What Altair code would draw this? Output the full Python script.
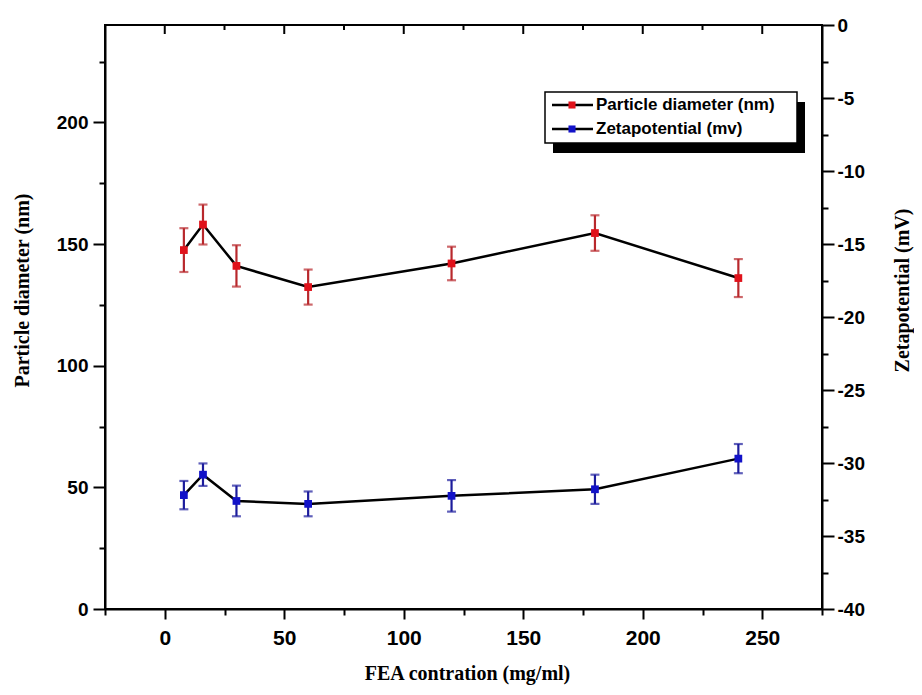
import altair as alt
import pandas as pd

# ---- data ----
conc = [8, 16, 30, 60, 120, 180, 240]
diameter = [147.5, 158.0, 141.0, 132.3, 142.0, 154.5, 136.0]
diameter_err = [9.0, 8.2, 8.5, 7.2, 6.9, 7.3, 7.8]
zeta = [-32.2, -30.8, -32.6, -32.8, -32.25, -31.8, -29.7]
zeta_err = [0.97, 0.77, 1.05, 0.85, 1.08, 1.0, 1.0]

legend_labels = ["Particle diameter (nm)", "Zetapotential (mv)"]
x_title = "FEA contration (mg/ml)"
y_left_title = "Particle diameter (nm)"
y_right_title = "Zetapotential (mV)"

RED = "#e0121b"
RED_ERR = "#b8282c"
BLUE = "#1212c8"
BLUE_ERR = "#1c1c9c"

W, H = 717, 584

df_d = pd.DataFrame({"conc": conc, "val": diameter,
                     "lo": [v - e for v, e in zip(diameter, diameter_err)],
                     "hi": [v + e for v, e in zip(diameter, diameter_err)]})
df_z = pd.DataFrame({"conc": conc, "val": zeta,
                     "lo": [v - e for v, e in zip(zeta, zeta_err)],
                     "hi": [v + e for v, e in zip(zeta, zeta_err)]})

x_scale = alt.Scale(domain=[-25, 275], nice=False, zero=False)
x_axis = alt.Axis(
    title=x_title,
    values=list(range(-25, 276, 25)),
    labelExpr="datum.value % 50 == 0 && datum.value >= 0 ? datum.label : ''",
    tickSize={"condition": {"test": "datum.value % 50 != 0", "value": 6}, "value": 10},
    labelPadding=8,
    labelFont="Liberation Sans Narrow, Arial Narrow, Liberation Sans",
    labelFontSize=21,
    titleX=362, titleY=64, titleBaseline="middle", titleAlign="center",
    titleFontSize=20,
)

yl_scale = alt.Scale(domain=[0, 240], nice=False, zero=False)
yl_axis = alt.Axis(
    title=y_left_title, orient="left",
    values=list(range(0, 226, 25)),
    labelExpr="datum.value % 50 == 0 ? datum.label : ''",
    tickSize={"condition": {"test": "datum.value % 50 != 0", "value": 6}, "value": 12},
    labelPadding=5,
    titleAngle=270, titleX=-83, titleY=265, titleAlign="center", titleBaseline="middle",
)

yr_scale = alt.Scale(domain=[-40, 0], nice=False, zero=False)
yr_axis = alt.Axis(
    title=y_right_title, orient="right",
    values=[v / 2 for v in range(-80, 1, 5)],
    labelExpr="datum.value % 5 == 0 ? '' + datum.value : ''",
    tickSize={"condition": {"test": "datum.value % 5 != 0", "value": 6}, "value": 12},
    labelPadding=3,
    titleAngle=270, titleX=80, titleY=265, titleAlign="center", titleBaseline="middle",
)


def series(df, y_scale, y_axis, marker, err_color):
    base = alt.Chart(df)
    X = alt.X("conc:Q", scale=x_scale, axis=x_axis)
    line = base.mark_line(color="black", strokeWidth=2.5).encode(
        x=X, y=alt.Y("val:Q", scale=y_scale, axis=y_axis))
    rule = base.mark_rule(color=err_color, strokeWidth=2.2).encode(
        x=X, y=alt.Y("lo:Q", scale=y_scale, axis=y_axis), y2="hi:Q")
    cap_lo = base.mark_tick(orient="horizontal", size=9, thickness=2.2, color=err_color).encode(
        x=X, y=alt.Y("lo:Q", scale=y_scale, axis=y_axis))
    cap_hi = base.mark_tick(orient="horizontal", size=9, thickness=2.2, color=err_color).encode(
        x=X, y=alt.Y("hi:Q", scale=y_scale, axis=y_axis))
    pts = base.mark_point(shape="square", filled=True, size=60, opacity=1, color=marker).encode(
        x=X, y=alt.Y("val:Q", scale=y_scale, axis=y_axis))
    return alt.layer(line, rule, cap_lo, cap_hi, pts)


red = series(df_d, yl_scale, yl_axis, RED, RED_ERR)
blue = series(df_z, yr_scale, yr_axis, BLUE, BLUE_ERR)

# top mirror ticks (inward)
top_major = pd.DataFrame({"t": [0, 50, 100, 150, 200, 250]})
top_minor = pd.DataFrame({"t": [25, 75, 125, 175, 225]})
Xt = alt.X("t:Q", scale=x_scale, axis=x_axis)
top1 = alt.Chart(top_major).mark_rule(color="black", strokeWidth=2).encode(
    x=Xt, y=alt.value(0), y2=alt.value(9))
top2 = alt.Chart(top_minor).mark_rule(color="black", strokeWidth=2).encode(
    x=Xt, y=alt.value(0), y2=alt.value(5))

# legend box
one = pd.DataFrame({"a": [0]})
shadow = alt.Chart(one).mark_rect(color="black").encode(
    x=alt.value(448), x2=alt.value(700), y=alt.value(77), y2=alt.value(128))
box = alt.Chart(one).mark_rect(fill="white", stroke="black", strokeWidth=1.5).encode(
    x=alt.value(440), x2=alt.value(692), y=alt.value(67), y2=alt.value(118))
leg = [shadow, box]
for i, (lab, col) in enumerate(zip(legend_labels, [RED, BLUE])):
    yy = 80 + 24 * i
    leg.append(alt.Chart(one).mark_rule(color="black", strokeWidth=2.5).encode(
        x=alt.value(447), x2=alt.value(488), y=alt.value(yy)))
    leg.append(alt.Chart(one).mark_point(shape="square", filled=True, size=50, opacity=1, color=col).encode(
        x=alt.value(467), y=alt.value(yy)))
    leg.append(alt.Chart(one).mark_text(align="left", baseline="middle", font="Liberation Sans",
                                        fontWeight="bold", fontSize=17, color="black").encode(
        x=alt.value(491), y=alt.value(yy), text=alt.value(lab)))

chart = alt.layer(top1, top2, red, blue, *leg).resolve_scale(y="independent").properties(
    width=W, height=H,
    padding={"left": 97, "top": 17, "right": 92, "bottom": 78},
    autosize=alt.AutoSizeParams(type="none"),
).configure_axis(
    grid=False,
    labelFont="Liberation Sans", labelFontWeight="bold", labelFontSize=19, labelColor="black",
    titleFont="Liberation Serif", titleFontWeight="bold", titleFontSize=20, titleColor="black",
    domainColor="black", domainWidth=2, tickColor="black", tickWidth=2,
).configure_view(stroke="black", strokeWidth=2)

chart.save("out.html", embed_options={"renderer": "svg", "actions": False})
